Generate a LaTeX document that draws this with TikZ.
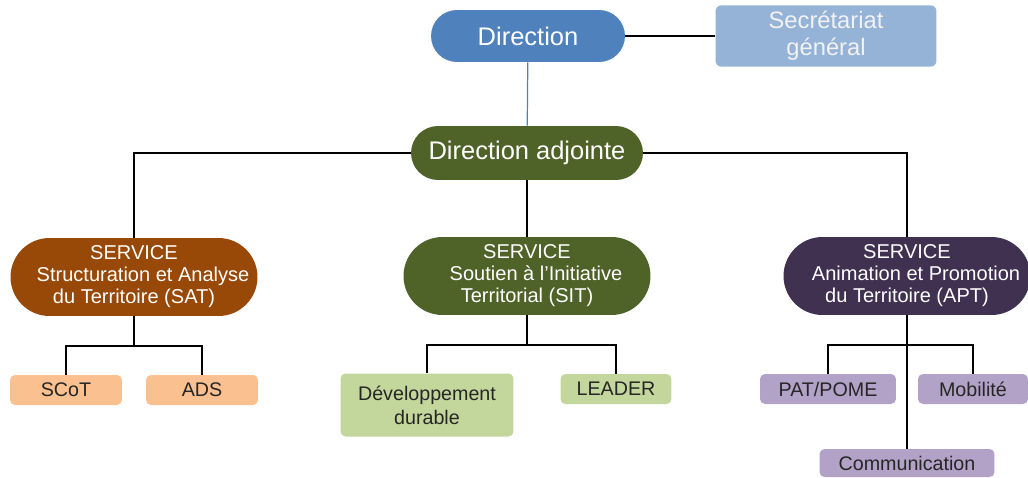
\documentclass[tikz,border=0pt]{standalone}
\usepackage{fontspec}
\setmainfont{Liberation Sans}
\definecolor{dirblue}{HTML}{4F81BD}
\definecolor{secblue}{HTML}{95B3D7}
\definecolor{olive}{HTML}{4F6228}
\definecolor{rust}{HTML}{984807}
\definecolor{plum}{HTML}{403151}
\definecolor{peach}{HTML}{FAC090}
\definecolor{sage}{HTML}{C3D69B}
\definecolor{lilac}{HTML}{B3A2C7}
\definecolor{ink}{HTML}{262626}
\newcommand{\indline}{\hspace*{0.9em}}
\begin{document}
\begin{tikzpicture}[x=0.02cm, y=-0.02cm,
  pill/.style={rectangle, inner sep=0pt, text=white, align=center},
  service/.style={pill, minimum width=4.94cm, minimum height=1.56cm,
    rounded corners=0.78cm, font=\fontsize{11.4}{12.5}\selectfont},
  leaf/.style={rectangle, rounded corners=0.1cm, inner sep=0pt, text=ink,
    align=center, minimum height=0.6cm, font=\fontsize{11.2}{13.6}\selectfont},
  link/.style={line width=1.1pt}]

\useasboundingbox (0,0) rectangle (1028,477);

% Top of the chart
  \node[pill, fill=dirblue, minimum width=3.88cm, minimum height=1.04cm,
    rounded corners=0.52cm, font=\fontsize{14.5}{16}\selectfont] (dir) at (528,36) {Direction};
  \node[rectangle, rounded corners=0.12cm, fill=secblue, text=white!95!black,
    minimum width=4.42cm, minimum height=1.18cm, align=center,
    font=\fontsize{13.5}{15.5}\selectfont] (sec) at (826,36) {Secrétariat\\général};
  \node[pill, fill=olive, minimum width=4.64cm, minimum height=1.08cm,
    rounded corners=0.54cm, font=\fontsize{14.5}{16}\selectfont] (adj) at (527,153) {Direction adjointe};

% Services
  \node[service, fill=rust] (sat) at (134,277) {SERVICE\\\indline Structuration et Analyse\\du Territoire (SAT)};
  \node[service, fill=olive] (sit) at (527,276) {SERVICE\\\indline Soutien à l’Initiative\\Territorial (SIT)};
  \node[service, fill=plum] (apt) at (907,276) {SERVICE\\\indline Animation et Promotion\\du Territoire (APT)};

% Missions
  \node[leaf, fill=peach, minimum width=2.24cm] (scot) at (66,390) {SCoT};
  \node[leaf, fill=peach, minimum width=2.24cm] (ads) at (202,390) {ADS};
  \node[leaf, fill=sage, minimum width=3.46cm, minimum height=1.26cm] (dd) at (427,405) {Développement\\durable};
  \node[leaf, fill=sage, minimum width=2.22cm] (leader) at (616,389) {LEADER};
  \node[leaf, fill=lilac, minimum width=2.72cm] (pat) at (828,389) {PAT/POME};
  \node[leaf, fill=lilac, minimum width=2.2cm] (mob) at (973,389) {Mobilité};
  \node[leaf, fill=lilac, minimum width=3.5cm, minimum height=0.56cm] (com) at (907,463) {Communication};

% Junctions
  \coordinate (satj) at (134,346);
  \coordinate (sitj) at (527,345);
  \coordinate (aptj) at (907,345);

% Links
  \draw[link] (dir) -- (sec);
  \draw[dirblue, line width=0.7pt] (dir) -- (adj);
  \draw[link] (adj.west) -| (sat);
  \draw[link] (adj.east) -| (apt);
  \draw[link] (adj) -- (sit);
  \draw[link] (sat) -- (satj) -| (scot);
  \draw[link] (satj) -| (ads);
  \draw[link] (sit) -- (sitj) -| (dd);
  \draw[link] (sitj) -| (leader);
  \draw[link] (apt) -- (com);
  \draw[link] (aptj) -| (pat);
  \draw[link] (aptj) -| (mob);

\end{tikzpicture}
\end{document}
